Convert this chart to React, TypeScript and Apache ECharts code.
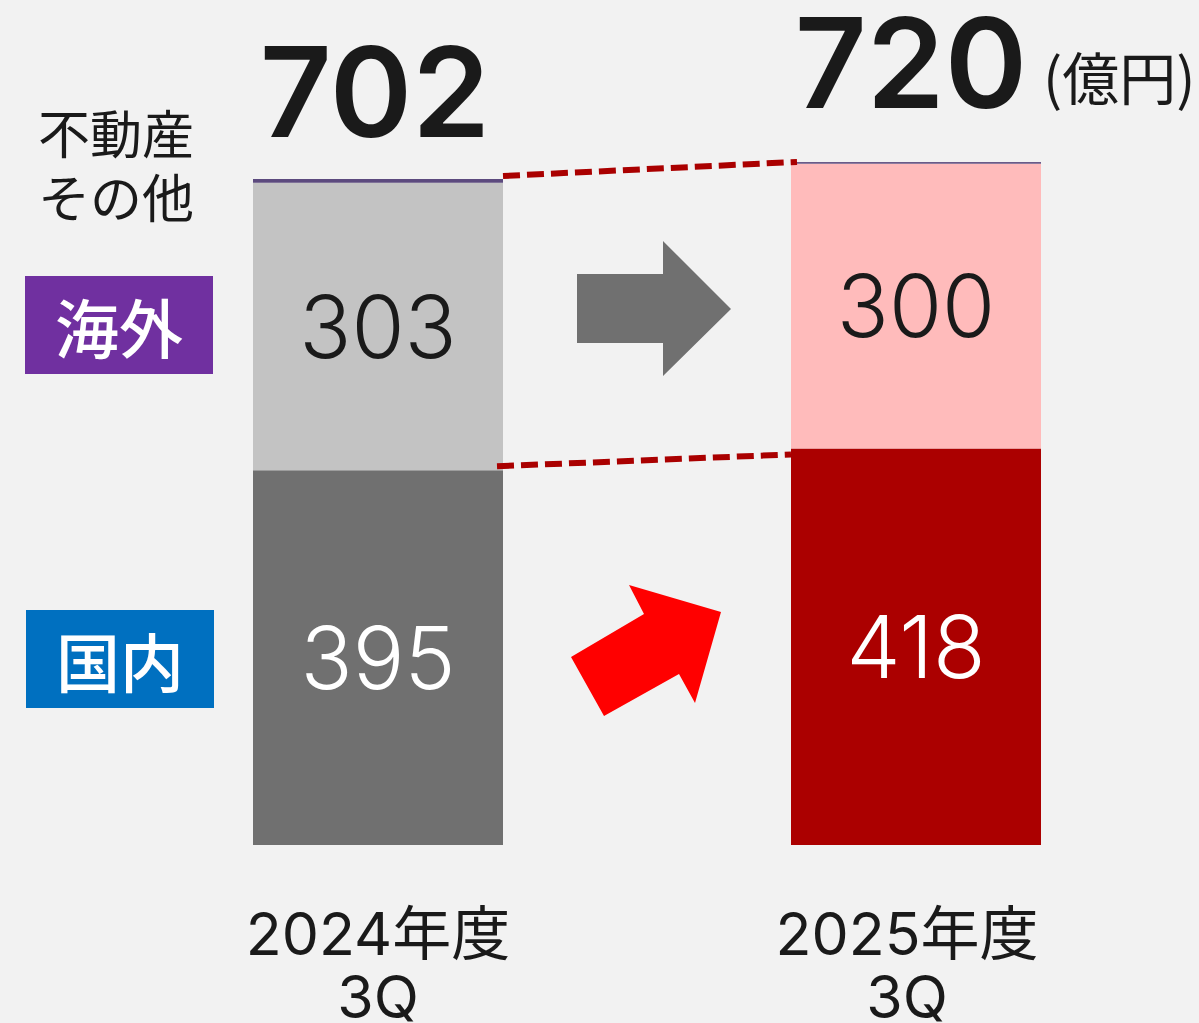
import React, { useEffect, useRef } from "react";
import * as echarts from "echarts";

// ---- data ----
const categories = ["2024年度\n3Q", "2025年度\n3Q"];
const domestic = [395, 418]; // 国内
const overseas = [303, 300]; // 海外
const realEstateOther = [4, 2]; // 不動産その他
const totals = [702, 720];
const unitLabel = "(億円)";
const segmentNames = ["国内", "海外", "不動産その他"];
const sideLabelLines = ["不動産", "その他"];

// ---- styles ----
const domesticColors = ["#707070", "#ab0000"];
const overseasColors = ["#c3c3c3", "#ffbbbb"];
const otherColors = ["#5c4a7e", "#6a5a88"];
const totalLabelDistance = [37, 49];
const totalLabelOffset = [[-3, 0], [-5, 0]];
const categoryLabelPadding = [[0, 0, 0, 0], [0, 18, 0, 0]];
const numFont = 'Inter, "Noto Sans CJK JP", sans-serif';
const cjkFont = '"Noto Sans CJK JP", sans-serif';

export default function App() {
  const ref = useRef<HTMLDivElement>(null);

  useEffect(() => {
    if (!ref.current) return;
    const chart = echarts.init(ref.current, undefined, { renderer: "svg" });
    const BAR_W = 250;

    const option: any = {
      animation: false,
      backgroundColor: "#f2f2f2",
      grid: {
        left: 109,
        width: 1076,
        top: 86,
        height: 759,
        containLabel: false,
        outerBoundsMode: "none",
      },
      xAxis: {
        type: "category",
        data: categories.map((c, i) => ({
          value: c,
          textStyle: { padding: categoryLabelPadding[i] },
        })),
        axisLine: { show: false },
        axisTick: { show: false },
        axisLabel: {
          interval: 0,
          fontSize: 59,
          lineHeight: 63,
          color: "#1a1a1a",
          fontFamily: numFont,
          margin: 57,
        },
      },
      yAxis: { type: "value", min: 0, max: 800, show: false, splitLine: { show: false } },
      series: [
        {
          name: segmentNames[0],
          type: "bar",
          stack: "total",
          barWidth: BAR_W,
          data: domestic.map((v, i) => ({ value: v, itemStyle: { color: domesticColors[i] } })),
          label: {
            show: true,
            position: "inside",
            fontSize: 86,
            lineHeight: 86,
            fontWeight: 300,
            fontFamily: numFont,
            color: "#ffffff",
          },
        },
        {
          name: segmentNames[1],
          type: "bar",
          stack: "total",
          barWidth: BAR_W,
          data: overseas.map((v, i) => ({ value: v, itemStyle: { color: overseasColors[i] } })),
          label: {
            show: true,
            position: "inside",
            fontSize: 86,
            lineHeight: 86,
            fontWeight: 300,
            fontFamily: numFont,
            color: "#1a1a1a",
          },
        },
        {
          name: segmentNames[2],
          type: "bar",
          stack: "total",
          barWidth: BAR_W,
          data: realEstateOther.map((v, i) => ({
            value: v,
            itemStyle: { color: otherColors[i] },
            label: { distance: totalLabelDistance[i], offset: totalLabelOffset[i] },
          })),
          label: {
            show: true,
            position: "top",
            fontSize: 125,
            lineHeight: 100,
            fontWeight: 600,
            fontFamily: numFont,
            color: "#1a1a1a",
            formatter: (p: any) => String(totals[p.dataIndex]),
          },
        },
      ],
    };
    chart.setOption(option);

    const px = (i: number, v: number) => chart.convertToPixel({ gridIndex: 0 }, [i, v]) as number[];
    const t0 = px(0, totals[0]);
    const t1 = px(1, totals[1]);
    const b0 = px(0, domestic[0]);
    const b1 = px(1, domestic[1]);
    const half = BAR_W / 2;
    const dashStyle = { stroke: "#aa0000", lineWidth: 6, lineDash: [17, 7] };

    const cjkText = (text: string, x: number, y: number, size: number, fill: string, weight: any) => ({
      type: "text",
      x,
      y,
      z: 60,
      style: {
        text,
        fontSize: size,
        fontWeight: weight,
        fontFamily: cjkFont,
        fill,
        align: "center",
        verticalAlign: "middle",
      },
    });

    chart.setOption({
      graphic: [
        {
          type: "line",
          z: 50,
          shape: { x1: t0[0] + half, y1: t0[1] - 3, x2: t1[0] - half + 6, y2: t1[1] },
          style: dashStyle,
        },
        {
          type: "line",
          z: 50,
          shape: { x1: b0[0] + half - 6, y1: b0[1] - 4, x2: b1[0] - half, y2: b1[1] + 6 },
          style: dashStyle,
        },
        {
          type: "polygon",
          z: 40,
          shape: {
            points: [
              [577, 274], [663, 274], [663, 241], [731, 309], [663, 376], [663, 343], [577, 343],
            ],
          },
          style: { fill: "#707070" },
        },
        {
          type: "polygon",
          z: 40,
          shape: {
            points: [
              [571, 657], [644, 614], [629, 585], [721, 612], [695, 703], [679, 674], [604, 716],
            ],
          },
          style: { fill: "#ff0000" },
        },
        cjkText(sideLabelLines[0], 116, 131, 52, "#1a1a1a", "normal"),
        cjkText(sideLabelLines[1], 116, 195, 52, "#1a1a1a", "normal"),
        { type: "rect", z: 55, shape: { x: 25, y: 276, width: 188, height: 98 }, style: { fill: "#7030a0" } },
        cjkText(segmentNames[1], 119, 325, 64, "#ffffff", 500),
        { type: "rect", z: 55, shape: { x: 26, y: 610, width: 188, height: 98 }, style: { fill: "#0070c0" } },
        cjkText(segmentNames[0], 120, 659, 64, "#ffffff", 500),
        {
          type: "text",
          x: 1043,
          y: 75,
          z: 60,
          style: {
            text: unitLabel,
            fontSize: 57,
            fontFamily: cjkFont,
            fill: "#1a1a1a",
            align: "left",
            verticalAlign: "middle",
          },
        },
      ],
    });

    return () => chart.dispose();
  }, []);

  return (
    <div
      ref={ref}
      style={{ position: "absolute", left: 0, top: 0, width: 1199, height: 1023 }}
    />
  );
}
